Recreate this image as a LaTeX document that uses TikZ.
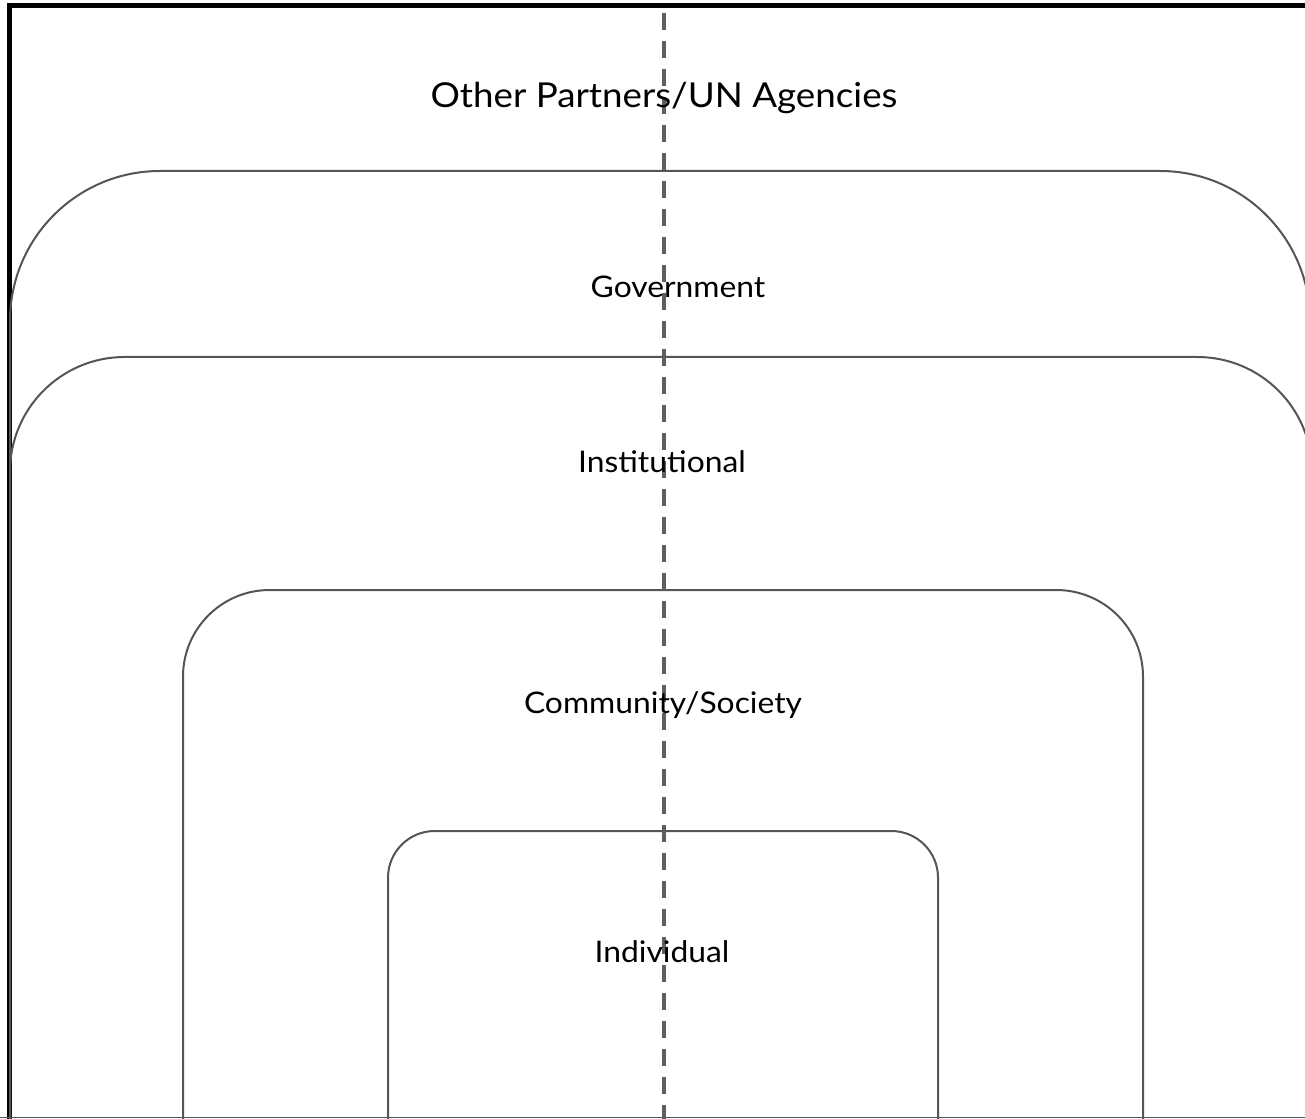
\documentclass[tikz,border=0pt]{standalone}
\usepackage{fontspec}
\setmainfont{Lato}[FakeStretch=1.07]
\usepackage{xcolor}
\usepackage{tikz}

\definecolor{ringgray}{RGB}{85,85,85}
\definecolor{axisgray}{RGB}{95,95,95}

\begin{document}
\begin{tikzpicture}[x=0.75pt,y=0.75pt,yscale=-1,xscale=1,
  ring/.style={draw=ringgray,line width=1.5pt},
  biglabel/.style={anchor=base,inner sep=0.75pt,font=\fontsize{25.75pt}{30pt}\selectfont},
  lvllabel/.style={anchor=base,inner sep=0.75pt,font=\fontsize{22.3pt}{25pt}\selectfont}]
\useasboundingbox (0,0) rectangle (1305,1119);
\clip (0,0) rectangle (1305,1119);
%Frame
\draw [line width=3.75pt]  (9,5.5) rectangle (1400,1400) ;
%Rounded Rect (government)
\draw [ring,rounded corners=112.5pt]  (10,171) rectangle (1310,1400) ;
%Rounded Rect (institutional)
\draw [ring,rounded corners=86pt]  (10,357) rectangle (1312,1400) ;
%Rounded Rect (community)
\draw [ring,rounded corners=65pt]  (183,590) rectangle (1143,1400) ;
%Rounded Rect (individual)
\draw [ring,rounded corners=35pt]  (388,831) rectangle (938,1400) ;
%Straight Lines (bottom edge)
\draw [draw=ringgray,line width=1.2pt]  (0,1117.5) -- (1305,1117.5) ;
%Straight Lines (divider)
\coordinate (divtop) at (664,13) ;
\coordinate (divbot) at (664,1130) ;
\draw [draw=axisgray,line width=3pt,dash pattern={on 12.75pt off 8.25pt}]  (divtop) -- (divbot) ;
% Text Node
\node [biglabel] (partners) at (664,108) {Other Partners/UN Agencies};
% Text Node
\node [lvllabel] (gov) at (678,298) {Government};
% Text Node
\node [lvllabel] (inst) at (662,472) {Institutional};
% Text Node
\node [lvllabel] (comm) at (663,713) {Community/Society};
% Text Node
\node [lvllabel] (indiv) at (662,962) {Individual};
\end{tikzpicture}
\end{document}
